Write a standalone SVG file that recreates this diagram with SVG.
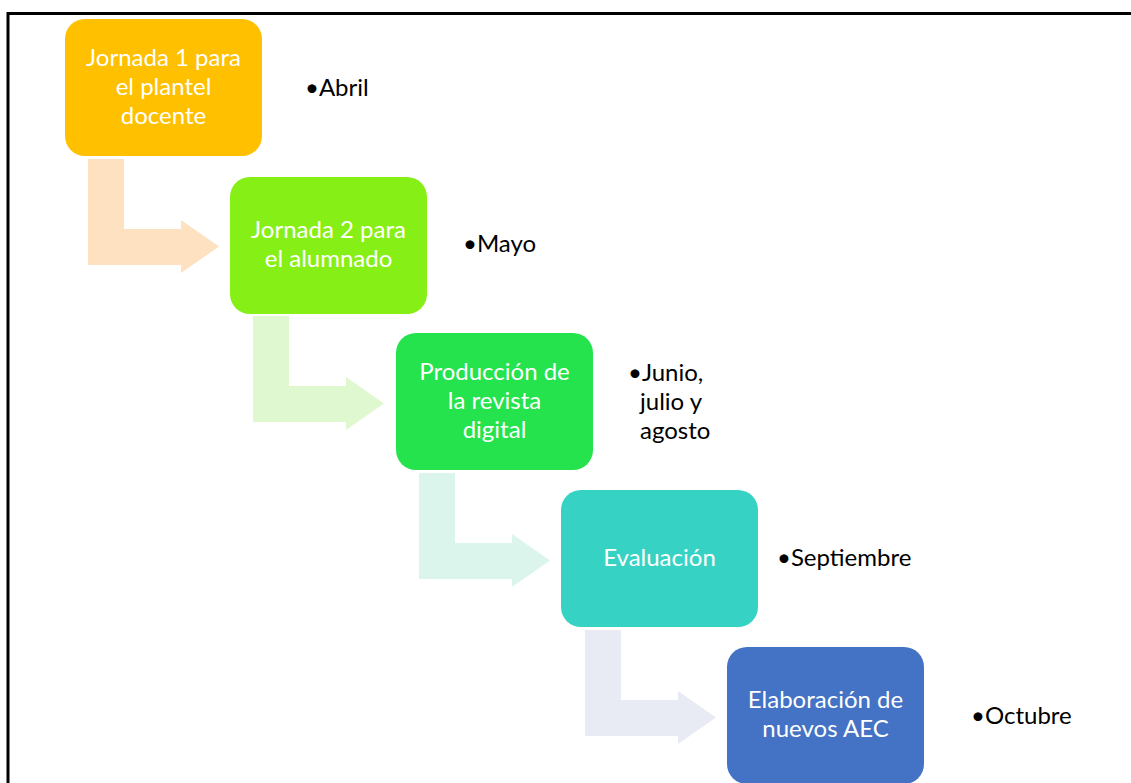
<svg xmlns="http://www.w3.org/2000/svg" width="1131" height="783" viewBox="0 0 1131 783">
<style>
.lbl{font-family:Lato,"Open Sans","Liberation Sans",sans-serif;font-size:24px;fill:#fff;text-anchor:middle}
.note{font-family:Lato,"Open Sans","Liberation Sans",sans-serif;font-size:24px;fill:#000}
</style>
<rect width="1131" height="783" fill="#fff"/>
<path d="M8 800 V13.5 H1140" fill="none" stroke="#000" stroke-width="3"/>
<g id="connectors">
<polygon points="88,159 124,159 124,229 181,229 181,220 219,246.5 181,273 181,265 88,265" fill="#FDE1C0"/>
<polygon points="253,316 289,316 289,386 346,386 346,377 384,403.5 346,430 346,422 253,422" fill="#DFF8D0"/>
<polygon points="419,473 455,473 455,543 512,543 512,534 550,560.5 512,587 512,579 419,579" fill="#DBF5EC"/>
<polygon points="585,630 621,630 621,700 678,700 678,691 716,717.5 678,744 678,736 585,736" fill="#E8EBF4"/>
</g>
<g id="n1">
<rect x="65" y="19" width="197" height="137" rx="20" fill="#FFC000"/>
<text class="lbl" x="163.5" y="66">Jornada 1 para</text>
<text class="lbl" x="163.5" y="95">el plantel</text>
<text class="lbl" x="163.5" y="124">docente</text>
</g>
<g id="t1"><text class="note" x="305" y="96">•Abril</text></g>
<g id="n2">
<rect x="230" y="177" width="197" height="137" rx="20" fill="#86F016"/>
<text class="lbl" x="328.5" y="238">Jornada 2 para</text>
<text class="lbl" x="328.5" y="267">el alumnado</text>
</g>
<g id="t2"><text class="note" x="463" y="252">•Mayo</text></g>
<g id="n3">
<rect x="396" y="333" width="197" height="137" rx="20" fill="#24E34C"/>
<text class="lbl" x="494.5" y="380">Producción de</text>
<text class="lbl" x="494.5" y="409">la revista</text>
<text class="lbl" x="494.5" y="438">digital</text>
</g>
<g id="t3">
<text class="note" x="628" y="381">•Junio,</text>
<text class="note" x="640" y="410">julio y</text>
<text class="note" x="640" y="439">agosto</text>
</g>
<g id="n4">
<rect x="561" y="490" width="197" height="137" rx="20" fill="#36D3C4"/>
<text class="lbl" x="659.5" y="566">Evaluación</text>
</g>
<g id="t4"><text class="note" x="777" y="566">•Septiembre</text></g>
<g id="n5">
<rect x="727" y="647" width="197" height="137" rx="20" fill="#4472C4"/>
<text class="lbl" x="825.5" y="708">Elaboración de</text>
<text class="lbl" x="825.5" y="737">nuevos AEC</text>
</g>
<g id="t5"><text class="note" x="971" y="724">•Octubre</text></g>
</svg>
